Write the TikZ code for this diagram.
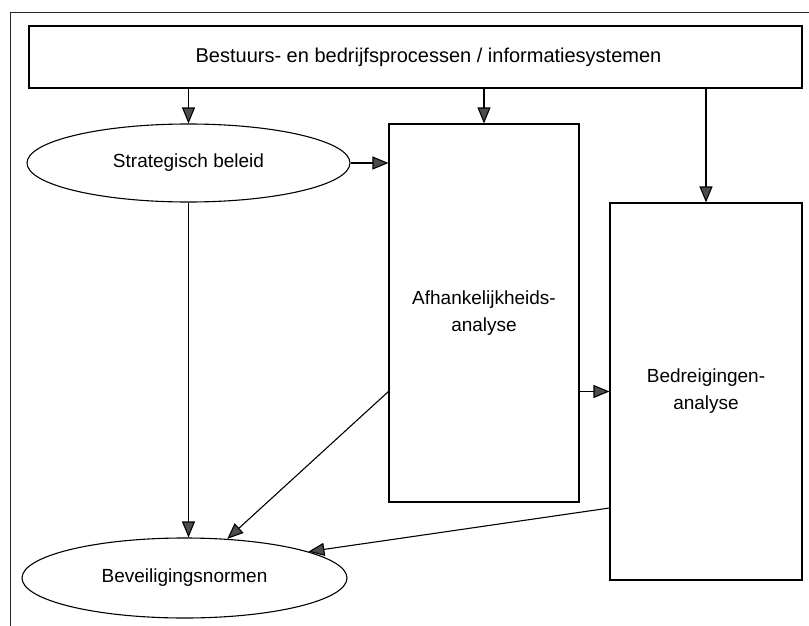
\documentclass[tikz,border=0pt]{standalone}
\usepackage{fontspec}
\setmainfont{Liberation Sans}
\usetikzlibrary{arrows.meta,shapes.geometric,calc}

\tikzset{
  line/.style={line width=1.1pt, draw=black},
  arr/.style={line, -{Triangle[length=16pt, width=13pt, fill=black!70]}},
  boxnode/.style={line, rectangle, inner sep=0pt, align=center,
    font=\fontsize{19}{27}\selectfont},
  ovalnode/.style={line, ellipse, inner sep=0pt,
    font=\fontsize{19}{23}\selectfont},
  frame/.style={line width=0.9pt, draw=black!85},
}

\begin{document}
\begin{tikzpicture}[x=1pt, y=-1pt]
  \useasboundingbox (0,0) rectangle (809,626);
  \fill[white] (0,0) rectangle (809,626);

  % outer frame (runs off the page on the right and at the bottom)
  \draw[frame] (815,12) -- (10,12) -- (10,632);

  % nodes
  \node[boxnode, minimum width=773pt, minimum height=62pt,
        font=\fontsize{20}{24}\selectfont] (top) at (415.5,57)
        {\hspace*{26pt}Bestuurs- en bedrijfsprocessen / informatiesystemen};
  \node[ovalnode, minimum width=323pt, minimum height=78pt] (strat)
        at (188.5,163) {Strategisch beleid};
  \node[boxnode, minimum width=190pt, minimum height=378pt] (afh)
        at (484,313) {Afhankelijkheids-\\analyse};
  \node[boxnode, minimum width=192pt, minimum height=377pt] (bedr)
        at (706,391.5) {Bedreigingen-\\analyse};
  \node[ovalnode, minimum width=325pt, minimum height=80pt] (bev)
        at (184.5,578) {Beveiligingsnormen};

  % connectors
  \draw[arr] (strat.north |- top.south) -- (strat.north);
  \draw[arr] (afh.north |- top.south) -- (afh.north);
  \draw[arr] (bedr.north |- top.south) -- (bedr.north);
  \draw[arr] (strat.east) -- (strat.east -| afh.west);
  \draw[arr] (afh.east |- bedr.west) -- (bedr.west);
  \draw[arr] (strat.south) -- (strat.south |- bev.north);
  \draw[arr] (afh.west |- bedr.west) -- (bev);
  \draw[arr] ($(bedr.west)+(0,116.5)$) -- (bev.12);
\end{tikzpicture}
\end{document}
